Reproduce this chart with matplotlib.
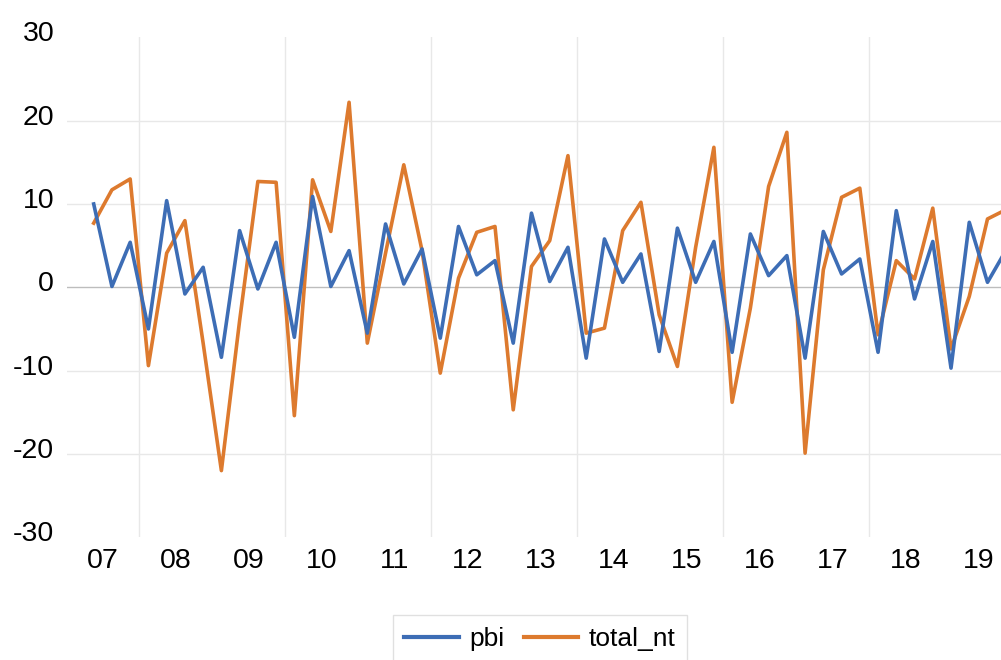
import matplotlib
matplotlib.use("Agg")
import matplotlib.pyplot as plt
import matplotlib.transforms as mtransforms
import numpy as np

# Data (quarterly)
pbi = [10.0, 0.1, 5.4, -5.0, 10.4, -0.8, 2.4, -8.4, 6.8, -0.2, 5.4, -6.0,
       10.9, 0.1, 4.4, -5.5, 7.6, 0.4, 4.6, -6.1, 7.3, 1.5, 3.2, -6.7,
       8.9, 0.7, 4.8, -8.5, 5.8, 0.6, 4.0, -7.7, 7.1, 0.6, 5.5, -7.8,
       6.4, 1.4, 3.8, -8.5, 6.7, 1.6, 3.4, -7.8, 9.2, -1.4, 5.5, -9.7,
       7.8, 0.6, 4.4]
total_nt = [7.7, 11.7, 13.0, -9.4, 4.1, 8.0, -6.7, -22.0, -4.0, 12.7, 12.6, -15.4,
            12.9, 6.7, 22.2, -6.7, 4.1, 14.7, 4.4, -10.3, 1.1, 6.6, 7.3, -14.7,
            2.5, 5.6, 15.8, -5.5, -4.9, 6.8, 10.2, -3.3, -9.5, 4.8, 16.8, -13.8,
            -2.5, 12.1, 18.6, -19.9, 2.1, 10.8, 11.9, -5.7, 3.2, 1.0, 9.5, -7.4,
            -1.1, 8.2, 9.3]
year_labels = ["07", "08", "09", "10", "11", "12", "13", "14", "15", "16",
               "17", "18", "19"]
y_ticks = [30, 20, 10, 0, -10, -20, -30]

BLUE = "#3D6DB5"
ORANGE = "#DD7A2E"

plt.rcParams["font.family"] = ["Liberation Sans", "DejaVu Sans"]

fig = plt.figure(figsize=(10.01, 6.60), dpi=100)
ax = fig.add_axes([66.7 / 1001, (660 - 537.3) / 660, 1 - 66.7 / 1001, 500 / 660])

x = np.arange(len(pbi))
ax.set_xlim(-1.48, 49.74)
ax.set_ylim(-30, 30)

# gridlines
for yv in [20, 10, -10, -20]:
    ax.axhline(yv, color="#e8e8e8", lw=1.0, zorder=0)
ax.axhline(0, color="#bdbdbd", lw=1.0, zorder=1)
for xv in np.arange(2.5, 49.74, 8):
    ax.axvline(xv, color="#e8e8e8", lw=1.0, zorder=0)

ax.plot(x, pbi, color=BLUE, lw=2.6, label="pbi", zorder=3)
ax.plot(x, total_nt, color=ORANGE, lw=2.6, label="total_nt", zorder=2)

for s in ax.spines.values():
    s.set_visible(False)

ax.set_xticks(np.arange(len(year_labels)) * 4 + 0.5)
ax.set_xticklabels(year_labels, fontsize=20.5)
ax.set_yticks(y_ticks)
ax.set_yticklabels([str(v) for v in y_ticks], fontsize=20.5)
ax.tick_params(axis="both", length=0)
ax.tick_params(axis="x", pad=8)
ax.tick_params(axis="y", pad=9)

off = mtransforms.ScaledTranslation(0, 6 / 100, fig.dpi_scale_trans)
for lab in ax.get_yticklabels():
    lab.set_transform(lab.get_transform() + off)

leg = fig.legend(loc="upper center", bbox_to_anchor=(540 / 1001, 1 - 615 / 660),
                 ncol=2, fontsize=19, frameon=True, fancybox=False,
                 edgecolor="#d9d9d9", handlelength=2.05, handletextpad=0.4,
                 columnspacing=0.75, borderpad=0.45, borderaxespad=0)
leg.get_frame().set_linewidth(1.0)
for h in leg.get_lines():
    h.set_linewidth(3)

fig.savefig("out.png", dpi=100)
